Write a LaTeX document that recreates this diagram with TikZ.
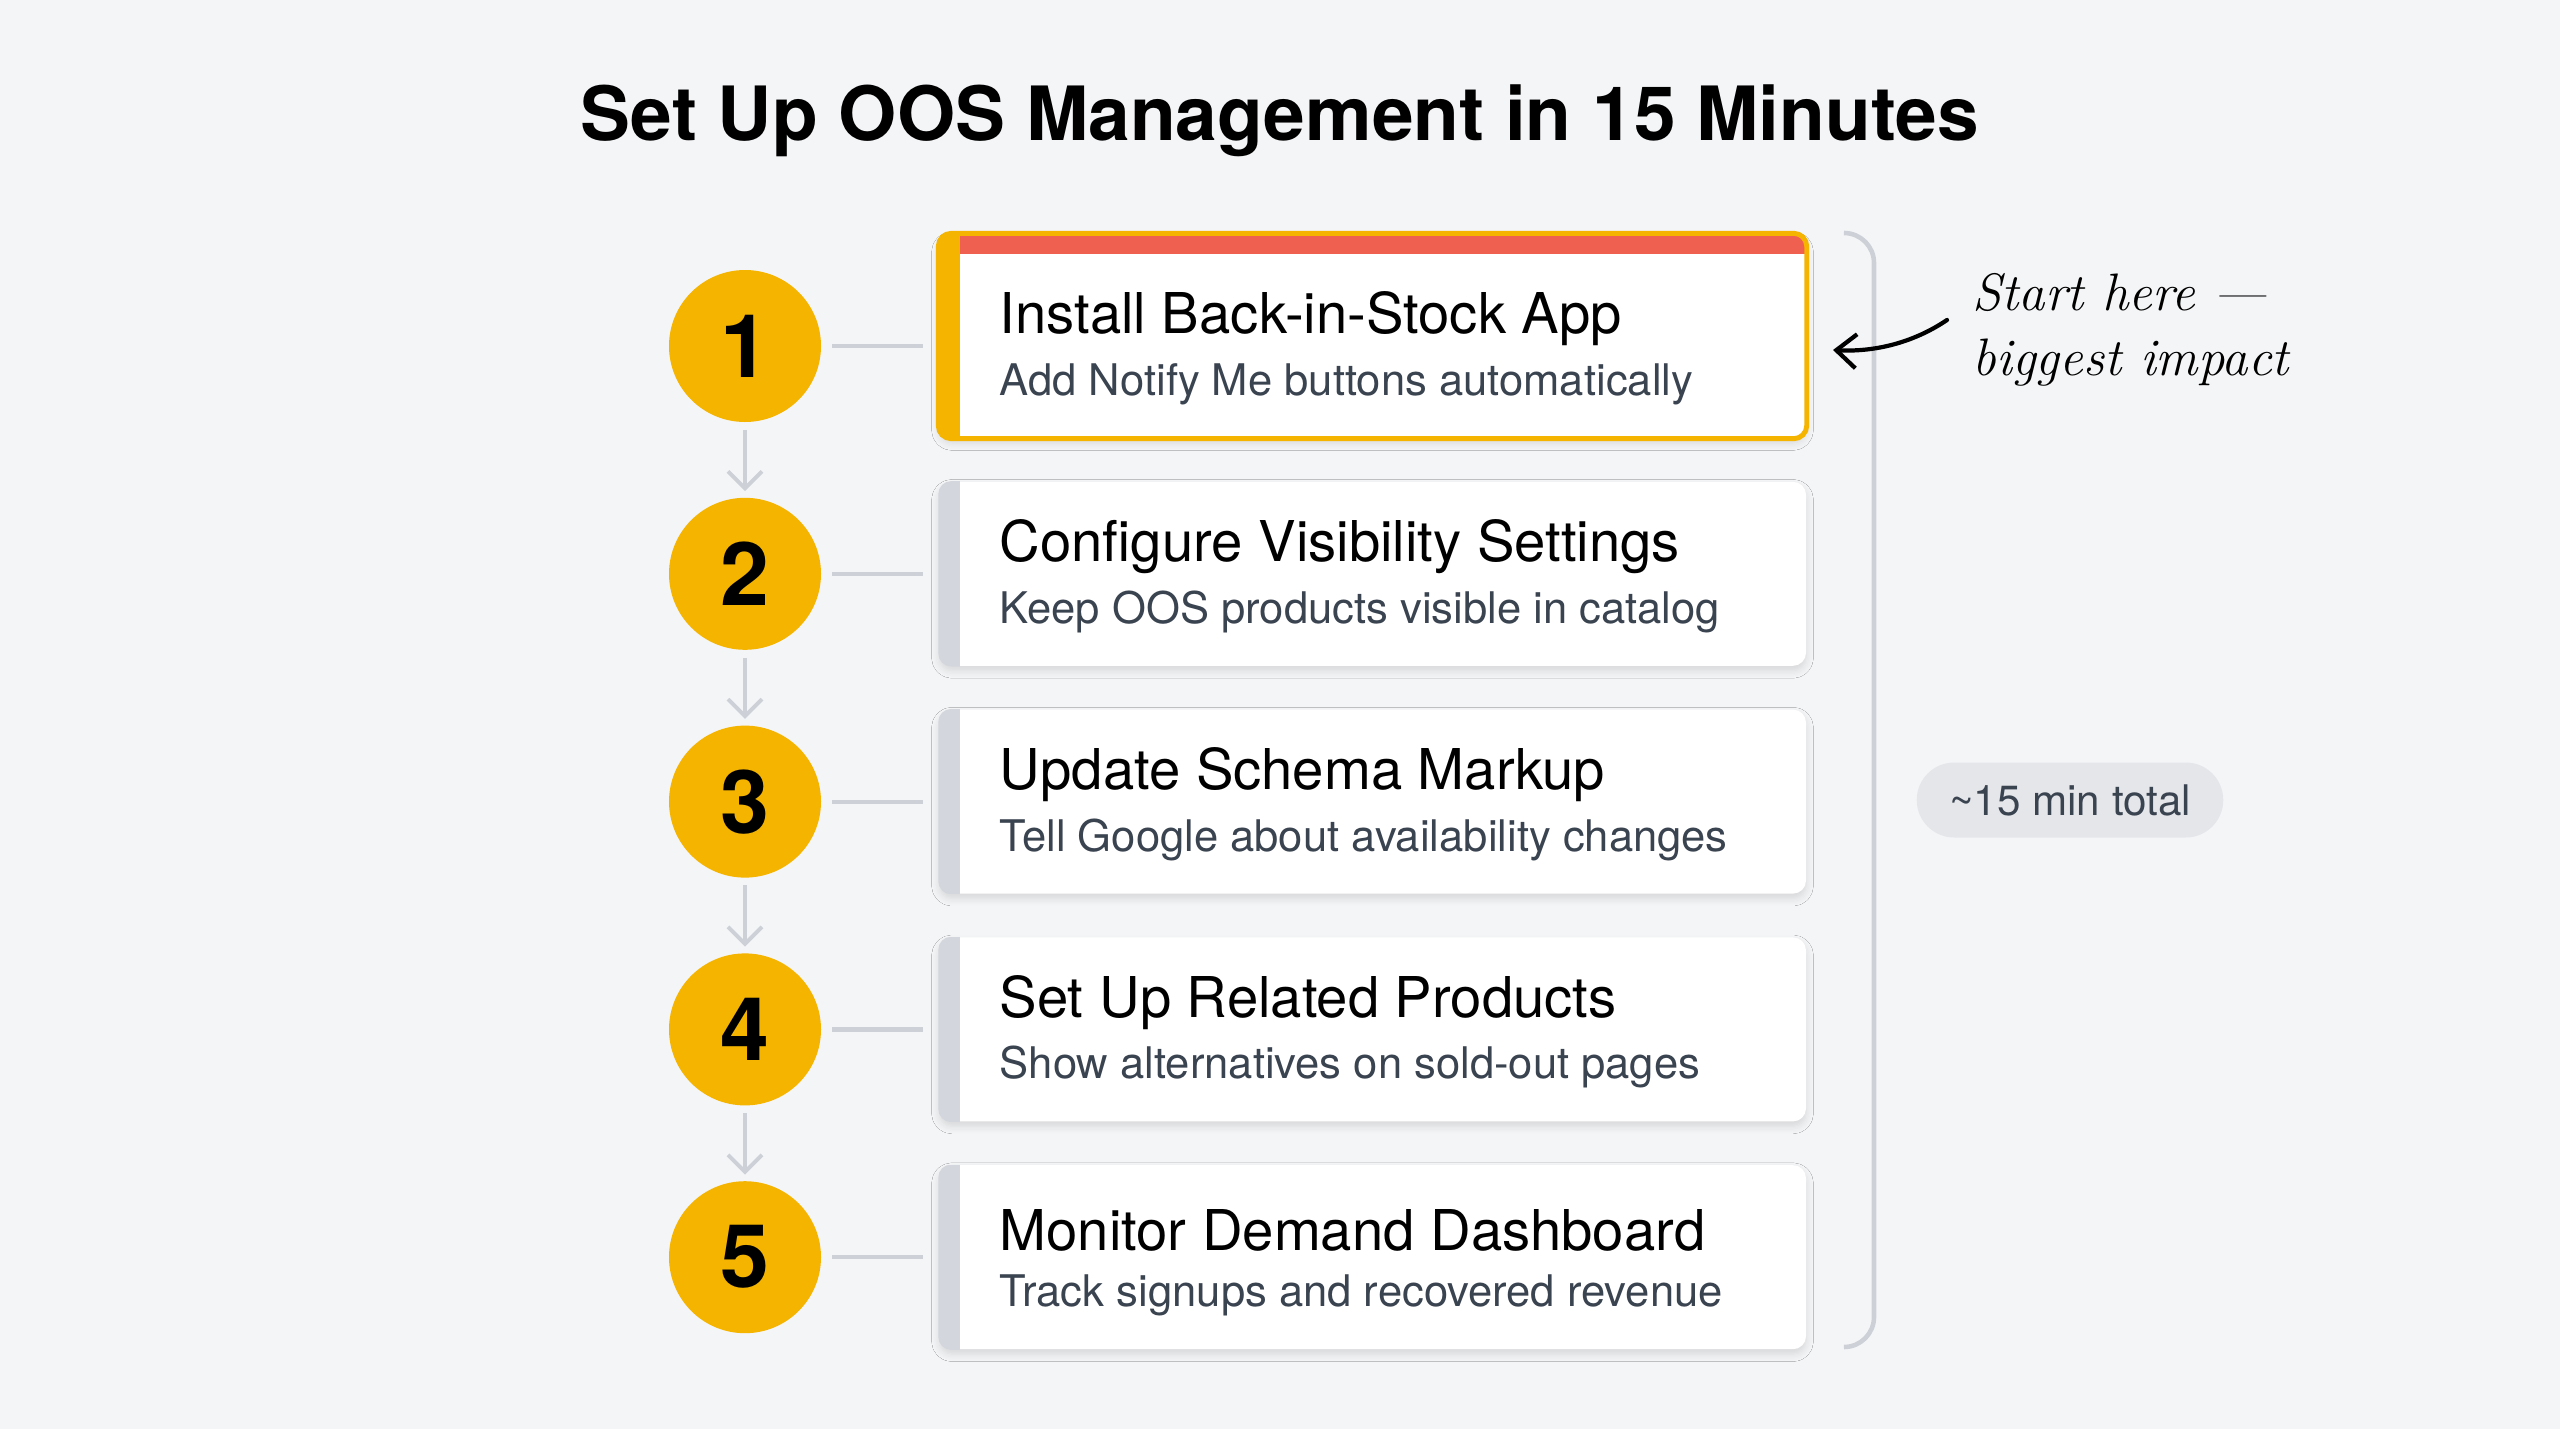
\documentclass[tikz,border=0pt]{standalone}
\usepackage{fontspec}
\setmainfont{TeX Gyre Heros}
\newfontfamily\handfont{Latin Modern Roman}
\usetikzlibrary{arrows.meta,positioning,shadows.blur,shapes.misc}

\definecolor{bgc}{HTML}{F4F5F7}
\definecolor{amber}{HTML}{F4B400}
\definecolor{redbar}{HTML}{EF6050}
\definecolor{linec}{HTML}{CDD1D7}
\definecolor{stripe}{HTML}{D3D6DC}
\definecolor{subc}{HTML}{3A4350}
\definecolor{pillc}{HTML}{E4E6EA}

\tikzset{
  num/.style={circle, fill=amber, minimum size=1.52cm, inner sep=0pt,
    font=\fontsize{25}{25}\selectfont\bfseries},
  card/.style={rectangle, rounded corners=0.13cm, fill=white, inner sep=0pt,
    minimum width=8.67cm, minimum height=1.84cm,
    blur shadow={shadow xshift=0pt, shadow yshift=-0.05cm, shadow opacity=12, shadow blur steps=6}},
  cardtitle/.style={anchor=west, inner sep=0pt, font=\fontsize{16}{17}\selectfont},
  cardsub/.style={anchor=west, inner sep=0pt, text=subc, font=\fontsize{12.4}{13}\selectfont},
  link/.style={draw=linec, line width=1.2pt},
  flow/.style={draw=linec, line width=1.1pt, -{Straight Barb[length=0.17cm,width=0.34cm]}},
  pill/.style={rounded rectangle, fill=pillc, text=subc, minimum width=3.3cm,
    minimum height=0.75cm, font=\fontsize{12}{13}\selectfont},
  note/.style={anchor=west, align=left, inner sep=0pt,
    font=\handfont\itshape\fontsize{15}{18.5}\selectfont},
}

\begin{document}
\begin{tikzpicture}[x=1cm,y=-1cm]
  \fill[bgc] (0,0) rectangle (25.6,14.29);
  \useasboundingbox (0,0) rectangle (25.6,14.29);

  \node[font=\fontsize{21.3}{23}\selectfont\bfseries] (title) at (12.80,1.21)
    {Set Up OOS Management in 15 Minutes};

  % first card, highlighted
  \node[card, minimum height=2.04cm] (k1) at (13.725,3.36) {};
  \begin{scope}
    \path[clip, rounded corners=0.13cm] (k1.south west) rectangle (k1.north east);
    \fill[redbar] (k1.north west) rectangle ([yshift=-0.21cm]k1.north east);
    \fill[amber] (k1.north west) rectangle ([xshift=0.22cm]k1.south west);
  \end{scope}
  \draw[amber, line width=1.4pt, rounded corners=0.13cm] (k1.south west) rectangle (k1.north east);

  % other cards
  \foreach \i/\yy in {2/5.738,3/8.016,4/10.294,5/12.572} {
    \node[card] (k\i) at (13.725,\yy) {};
    \begin{scope}
      \path[clip, rounded corners=0.13cm] (k\i.south west) rectangle (k\i.north east);
      \fill[stripe] (k\i.north west) rectangle ([xshift=0.22cm]k\i.south west);
    \end{scope}
  }

  % steps
  \foreach \i/\yy/\head/\desc in {
      1/3.46/Install Back-in-Stock App/Add Notify Me buttons automatically,
      2/5.738/Configure Visibility Settings/Keep OOS products visible in catalog,
      3/8.016/Update Schema Markup/Tell Google about availability changes,
      4/10.294/Set Up Related Products/Show alternatives on sold-out pages,
      5/12.572/Monitor Demand Dashboard/Track signups and recovered revenue} {
    \node[num] (c\i) at (7.45,\yy) {\i};
    \node[cardtitle] (t\i) at (9.99,\yy-0.27) {\head};
    \node[cardsub] (s\i) at (9.99,\yy+0.38) {\desc};
    \draw[link] ([xshift=0.10cm]c\i.east) -- ([xshift=-0.15cm]k\i.west |- c\i.east);
  }
  \foreach \i [evaluate=\i as \j using int(\i+1)] in {1,...,4}
    \draw[flow] ([yshift=-0.07cm]c\i.south) -- ([yshift=0.06cm]c\j.north);

  % bracket and total
  \draw[linec, line width=1.3pt, rounded corners=0.3cm]
    (18.45,2.33) -- (18.74,2.33) -- (18.74,13.47) -- (18.45,13.47);
  \node[pill] (tot) at (20.70,8.00) {\textasciitilde15 min total};

  % hand note
  \node[note] (hint) at (19.72,3.30) {Start here —\\biggest impact};
  \coordinate (hs) at (19.47,3.20);
  \coordinate (ht) at (18.33,3.50);
  \draw[line width=1.2pt, line cap=round, -{Straight Barb[length=0.2cm,width=0.34cm]}]
    (hs) .. controls (19.1,3.45) and (18.7,3.52) .. (ht);
\end{tikzpicture}
\end{document}
